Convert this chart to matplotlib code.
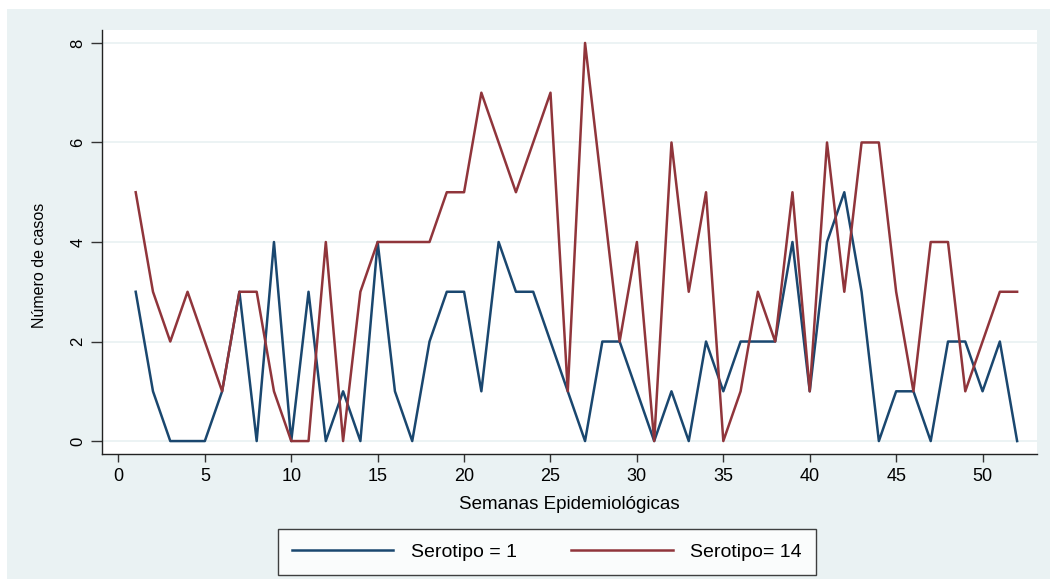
import matplotlib.pyplot as plt
from matplotlib.patches import Rectangle

# semanas epidemiologicas 1..52
semanas = list(range(1, 53))

serotipo_1 = [3, 1, 0, 0, 0, 1, 3, 0, 4, 0,
              3, 0, 1, 0, 4, 1, 0, 2, 3, 3,
              1, 4, 3, 3, 2, 1, 0, 2, 2, 1,
              0, 1, 0, 2, 1, 2, 2, 2, 4, 1,
              4, 5, 3, 0, 1, 1, 0, 2, 2, 1,
              2, 0]

serotipo_14 = [5, 3, 2, 3, 2, 1, 3, 3, 1, 0,
               0, 4, 0, 3, 4, 4, 4, 4, 5, 5,
               7, 6, 5, 6, 7, 1, 8, 5, 2, 4,
               0, 6, 3, 5, 0, 1, 3, 2, 5, 1,
               6, 3, 6, 6, 3, 1, 4, 4, 1, 2,
               3, 3]

x_ticks = [0, 5, 10, 15, 20, 25, 30, 35, 40, 45, 50]
y_ticks = [0, 2, 4, 6, 8]

AZUL = '#1a476f'
ROJO = '#90353b'
FONDO = '#eaf2f3'

plt.rcParams['font.family'] = ['Liberation Sans', 'DejaVu Sans']

fig = plt.figure(figsize=(10.5, 5.79), dpi=100)
fig.patch.set_facecolor('white')
fig.patches.append(Rectangle((7 / 1050, 0), 1 - 7 / 1050, 1 - 9 / 579,
                             transform=fig.transFigure, facecolor=FONDO,
                             edgecolor='none', zorder=-10))

ax = fig.add_axes([102 / 1050, 1 - 454 / 579, (1037 - 102) / 1050, (454 - 30) / 579])
ax.set_facecolor('white')

ax.plot(semanas, serotipo_1, color=AZUL, lw=1.8, label='Serotipo = 1', zorder=3)
ax.plot(semanas, serotipo_14, color=ROJO, lw=1.8, label='Serotipo= 14', zorder=3)

ax.set_xlim(-0.95, 53.15)
ax.set_ylim(-0.26, 8.26)
ax.set_xticks(x_ticks)
ax.set_yticks(y_ticks)
ax.grid(axis='y', color=FONDO, lw=1.3, zorder=0)
ax.set_axisbelow(True)

for lado in ['top', 'right']:
    ax.spines[lado].set_visible(False)
for lado in ['left', 'bottom']:
    ax.spines[lado].set_color('#222222')
    ax.spines[lado].set_linewidth(1.0)

ax.tick_params(axis='x', direction='out', length=6, width=1, color='#333333',
               labelsize=13, pad=4)
ax.tick_params(axis='y', direction='out', length=8, width=1, color='#333333',
               labelsize=12, pad=4)
for lab in ax.get_yticklabels():
    lab.set_rotation(90)
    lab.set_va('center')

ax.set_xlabel('Semanas Epidemiológicas', fontsize=13.5, labelpad=8)
ax.set_ylabel('Número de casos', fontsize=11.5)
ax.yaxis.set_label_coords(-0.059, 0.446)

leg = fig.legend(loc='center', bbox_to_anchor=(547 / 1050, 1 - 552 / 579),
                 ncol=2, fontsize=14, frameon=True, fancybox=False,
                 handlelength=5.2, handletextpad=0.9, columnspacing=2.8,
                 borderpad=0.72)
leg.get_frame().set_edgecolor('#111111')
leg.get_frame().set_linewidth(1.0)
leg.get_frame().set_facecolor('white')

fig.savefig('out.png', dpi=100, facecolor=fig.get_facecolor())
